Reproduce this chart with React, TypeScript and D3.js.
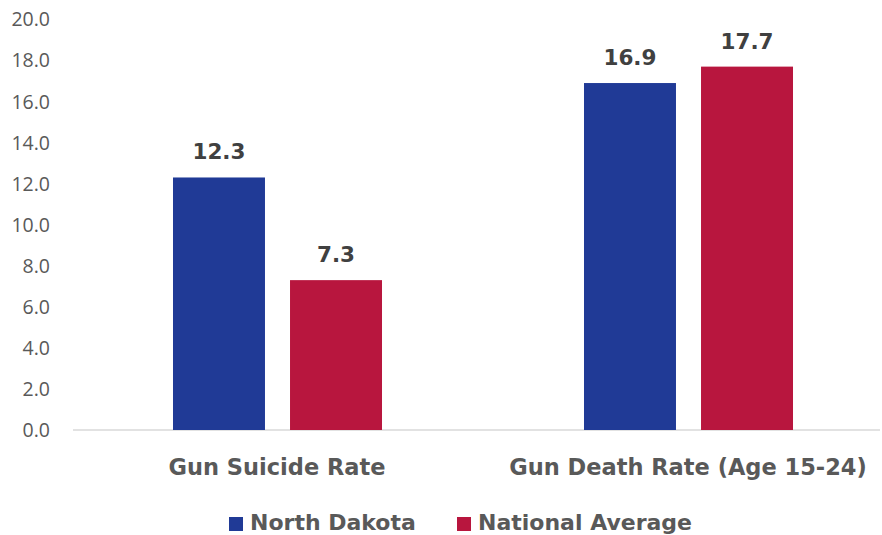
import React from "react";
import * as d3 from "d3";

const categories = ["Gun Suicide Rate", "Gun Death Rate (Age 15-24)"];
const seriesNames = ["North Dakota", "National Average"];
const northDakota = [12.3, 16.9];
const nationalAverage = [7.3, 17.7];
const yTicks = [0, 2, 4, 6, 8, 10, 12, 14, 16, 18, 20];
const colors = ["#203A96", "#B8163E"];

export default function App() {
  const W = 882, H = 535;
  const y0 = 430, yTop = 19.4;
  const x = d3.scaleBand<string>().domain(categories).range([72, 894]);
  const y = d3.scaleLinear().domain([0, 20]).range([y0, yTop]);
  const inner = d3.scaleBand<string>().domain(seriesNames).range([0, x.bandwidth()]).paddingInner(0.214).paddingOuter(0.863);
  const series = [northDakota, nationalAverage];
  const bold = "'DejaVu Sans', Verdana, sans-serif";
  const reg = "'Open Sans', 'Liberation Sans', sans-serif";
  return (
    <svg width={W} height={H} style={{ position: "absolute", left: 0, top: 0, background: "#fff" }}>
      {yTicks.map((t) => (
        <text key={t} x={50} y={y(t)} dy="0.36em" textAnchor="end" fontFamily={reg} fontSize={19.5} fill="#595959">
          {t.toFixed(1)}
        </text>
      ))}
      <line x1={73} x2={880} y1={y0} y2={y0} stroke="#D9D9D9" strokeWidth={1.5} />
      {categories.map((c, ci) => (
        <g key={c}>
          {seriesNames.map((s, si) => {
            const v = series[si][ci];
            const bx = (x(c) as number) + (inner(s) as number);
            return (
              <g key={s}>
                <rect x={bx} y={y(v)} width={inner.bandwidth()} height={y0 - y(v)} fill={colors[si]} />
                <text x={bx + inner.bandwidth() / 2} y={y(v) - 18} textAnchor="middle" fontFamily={bold} fontWeight="bold" fontSize={21.5} fill="#404040">
                  {v.toFixed(1)}
                </text>
              </g>
            );
          })}
          <text x={(x(c) as number) + x.bandwidth() / 2 - 0.5} y={475} textAnchor="middle" fontFamily={bold} fontWeight="bold" fontSize={22.5} fill="#595959">
            {c}
          </text>
        </g>
      ))}
      {seriesNames.map((s, i) => {
        const lx = [229, 457][i];
        return (
          <g key={s}>
            <rect x={lx} y={517} width={14} height={14} fill={colors[i]} />
            <text x={lx + 21} y={530} fontFamily={bold} fontWeight="bold" fontSize={22} fill="#595959">
              {s}
            </text>
          </g>
        );
      })}
    </svg>
  );
}
